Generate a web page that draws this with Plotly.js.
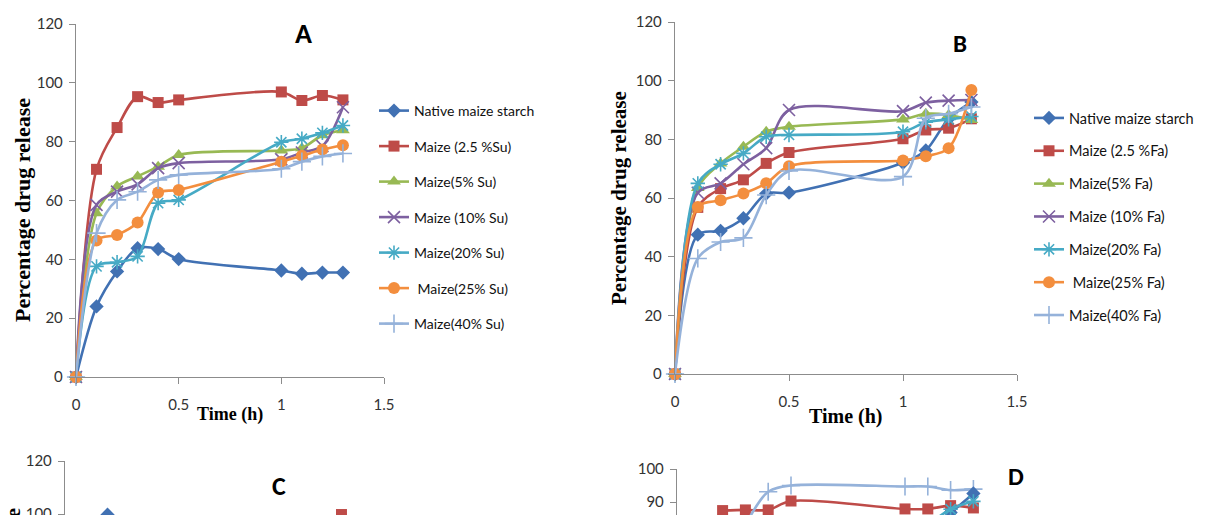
<!DOCTYPE html>
<html>
<head>
<meta charset="utf-8">
<script src="https://cdn.plot.ly/plotly-3.0.1.min.js"></script>
<style>
html,body{margin:0;padding:0;background:#fff;overflow:hidden;}
#chart{width:1218px;height:515px;}
</style>
</head>
<body>
<div id="chart"></div>
<script>
// time points (h)
const timeH = [0, 0.1, 0.2, 0.3, 0.4, 0.5, 1.0, 1.1, 1.2, 1.3];

// Panel A (succinylated maize)
const namesA = ['Native maize starch', 'Maize (2.5 %Su)', 'Maize(5% Su)', 'Maize (10% Su)', 'Maize(20% Su)', ' Maize(25% Su)', 'Maize(40% Su)'];
const nativeA = [0, 24.0, 35.9, 43.8, 43.5, 40.1, 36.2, 35.1, 35.5, 35.5];
const su2_5 = [0, 70.6, 84.8, 95.3, 93.3, 94.2, 96.9, 94.0, 95.7, 94.2];
const su5 = [0, 55.7, 64.8, 68.2, 71.5, 75.5, 77.0, 77.8, 82.2, 83.9];
const su10 = [0, 58.5, 63.0, 65.5, 71.0, 72.7, 74.0, 76.3, 78.5, 91.7];
const su20 = [0, 37.6, 39.0, 41.0, 59.1, 60.2, 79.8, 81.0, 83.0, 85.5];
const su25 = [0, 46.4, 48.3, 52.5, 62.7, 63.6, 73.2, 75.2, 77.3, 78.8];
const su40 = [0, 48.9, 60.2, 63.0, 67.0, 68.7, 70.8, 73.2, 75.0, 76.0];

// Panel B (maize with Fa)
const namesB = ['Native maize starch', 'Maize (2.5 %Fa)', 'Maize(5% Fa)', 'Maize (10% Fa)', 'Maize(20% Fa)', ' Maize(25% Fa)', 'Maize(40% Fa)'];
const nativeB = [0, 47.5, 48.8, 53.1, 61.5, 61.8, 72.0, 76.2, 87.0, 92.7];
const fa2_5 = [0, 56.8, 63.2, 66.2, 71.8, 75.5, 80.2, 83.2, 83.8, 87.0];
const fa5 = [0, 63.4, 71.8, 77.5, 82.6, 84.3, 86.8, 88.7, 88.3, 86.6];
const fa10 = [0, 61.8, 65.0, 71.5, 77.0, 90.0, 89.6, 92.5, 93.2, 93.4];
const fa20 = [0, 65.0, 71.5, 75.2, 80.9, 81.5, 82.6, 85.8, 86.8, 87.8];
const fa25 = [0, 56.9, 59.2, 61.5, 65.0, 70.8, 72.8, 74.2, 77.0, 96.8];
const fa40 = [0, 39.4, 45.0, 46.4, 61.0, 69.2, 67.3, 87.2, 88.7, 91.0];

// Panel C (only the top of the panel is visible)
const cNativeX = [0.2], cNativeY = [99.75];
const cRedX = [1.3], cRedY = [99.8];

// Panel D (only the top of the panel is visible)
const dRedX = [0.2, 0.3, 0.4, 0.5, 1.0, 1.1, 1.2, 1.3];
const dRedY = [87.4, 87.6, 87.6, 90.3, 87.9, 87.9, 88.9, 88.2];
const d40X = [0.3, 0.4, 0.5, 1.0, 1.1, 1.2, 1.3];
const d40Y = [83.0, 93.1, 95.0, 94.7, 94.7, 93.6, 93.9];
const dNativeX = [1.1, 1.2, 1.3];
const dNativeY = [82.0, 86.8, 92.6];
const d20X = [1.1, 1.2, 1.3];
const d20Y = [83.0, 87.8, 90.2];

const colors = ['#4171B3', '#BE4B48', '#98B954', '#7D60A0', '#46AAC5', '#F38E3E', '#95B2DA'];
const symbols = ['diamond', 'square', 'triangle-up', 'x-thin', 'asterisk', 'circle', 'cross-thin'];
const sizes = [11, 11, 12, 12, 12, 12, 13];

function mk(i, x, y, name, xa, ya, legend, showlegend, group) {
  const thin = (symbols[i].indexOf('thin') >= 0 || symbols[i] === 'asterisk');
  return {
    type: 'scatter', mode: 'lines+markers', x: x, y: y, name: name,
    xaxis: xa, yaxis: ya, legend: legend, showlegend: showlegend, legendgroup: group,
    cliponaxis: false,
    line: {color: colors[i], width: 2.6, shape: 'spline', smoothing: 0.9},
    marker: {symbol: symbols[i], size: sizes[i], color: colors[i],
             line: {color: colors[i], width: thin ? 1.6 : 0}}
  };
}

const seriesA = [nativeA, su2_5, su5, su10, su20, su25, su40];
const seriesB = [nativeB, fa2_5, fa5, fa10, fa20, fa25, fa40];
const traces = [];
seriesA.forEach((s, i) => traces.push(mk(i, timeH, s, namesA[i], 'x', 'y', 'legend', true, 'a' + i)));
seriesB.forEach((s, i) => traces.push(mk(i, timeH, s, namesB[i], 'x2', 'y2', 'legend2', true, 'b' + i)));
traces.push(mk(0, cNativeX, cNativeY, 'c0', 'x3', 'y3', 'legend', false, 'c0'));
traces.push(mk(1, cRedX, cRedY, 'c1', 'x3', 'y3', 'legend', false, 'c1'));
traces.push(mk(1, dRedX, dRedY, 'd1', 'x4', 'y4', 'legend', false, 'd1'));
traces.push(mk(6, d40X, d40Y, 'd6', 'x4', 'y4', 'legend', false, 'd6'));
traces.push(mk(0, dNativeX, dNativeY, 'd0', 'x4', 'y4', 'legend', false, 'd0'));
traces.push(mk(4, d20X, d20Y, 'd4', 'x4', 'y4', 'legend', false, 'd4'));

const W = 1218, H = 515;
const px = v => v / W;
const py = v => (H - v) / H;
const tickFont = {family: 'Lato, Calibri, sans-serif', size: 15, color: '#333'};
function xax(x0, x1, y, visible) {
  return {domain: [px(x0), px(x1)], range: [0, 1.5], dtick: 0.5, tick0: 0, anchor: y,
    showline: true, linecolor: '#8c8c8c', linewidth: 1.2, ticks: 'outside', ticklen: 6,
    tickcolor: '#8c8c8c', showgrid: false, zeroline: false, tickfont: tickFont,
    ticklabelstandoff: 8, visible: visible, fixedrange: true};
}
function yax(yTop, yBot, r, dt, x) {
  return {domain: [py(yBot), py(yTop)], range: r, dtick: dt, tick0: 0, anchor: x,
    showline: true, linecolor: '#8c8c8c', linewidth: 1.2, ticks: 'outside', ticklen: 6,
    tickcolor: '#8c8c8c', showgrid: false, zeroline: false, tickfont: tickFont,
    ticklabelstandoff: 3, ticklabeloverflow: 'allow', fixedrange: true};
}

const serif = 'Liberation Serif, Times New Roman, serif';
const bold = 'Carlito, Lato, Calibri, sans-serif';
function ann(text, x, y, size, fam, angle, yanchor) {
  return {text: text, x: px(x), y: py(y), xref: 'paper', yref: 'paper', showarrow: false,
    xanchor: 'center', yanchor: yanchor || 'middle', textangle: angle || 0,
    font: {family: fam, size: size, color: '#000'}};
}

const layout = {
  width: W, height: H, margin: {l: 0, r: 0, t: 0, b: 0},
  paper_bgcolor: '#fff', plot_bgcolor: '#fff',
  xaxis: xax(76, 384, 'y', true),
  yaxis: yax(24, 377, [0, 120], 20, 'x'),
  xaxis2: xax(675, 1017, 'y2', true),
  yaxis2: yax(22, 374, [0, 120], 20, 'x2'),
  xaxis3: xax(65, 384, 'y3', false),
  yaxis3: yax(461, 515, [120 - 54 / 2.65, 120], 20, 'x3'),
  xaxis4: xax(677, 1019, 'y4', false),
  yaxis4: yax(469, 515, [100 - 46 / 3.3, 100], 10, 'x4'),
  legend: {x: px(374), y: py(95), xanchor: 'left', yanchor: 'top', bgcolor: 'rgba(0,0,0,0)',
    font: {family: 'Lato, Calibri, sans-serif', size: 14, color: '#111'},
    traceorder: 'grouped', tracegroupgap: 14.3, itemwidth: 30},
  legend2: {x: px(1029), y: py(102), xanchor: 'left', yanchor: 'top', bgcolor: 'rgba(0,0,0,0)',
    font: {family: 'Lato, Calibri, sans-serif', size: 14.5, color: '#111'},
    traceorder: 'grouped', tracegroupgap: 11, itemwidth: 30},
  annotations: [
    ann('<b>A</b>', 303, 33, 28, bold),
    ann('<b>B</b>', 960, 44, 25, bold),
    ann('<b>C</b>', 279, 486, 26, bold),
    ann('<b>D</b>', 1016, 476, 25, bold),
    ann('<b>Percentage drug release</b>', 22, 210, 22, serif, -90),
    ann('<b>Percentage drug release</b>', 619, 198, 21, serif, -90),
    ann('<b>Percentage drug release</b>', 12, 506, 22, serif, -90, 'top'),
    ann('<b>Time (h)</b>', 230, 414, 18, serif),
    ann('<b>Time (h)</b>', 846, 416, 20, serif)
  ],
  showlegend: true
};

Plotly.newPlot('chart', traces, layout, {displayModeBar: false, staticPlot: true});
</script>
</body>
</html>
